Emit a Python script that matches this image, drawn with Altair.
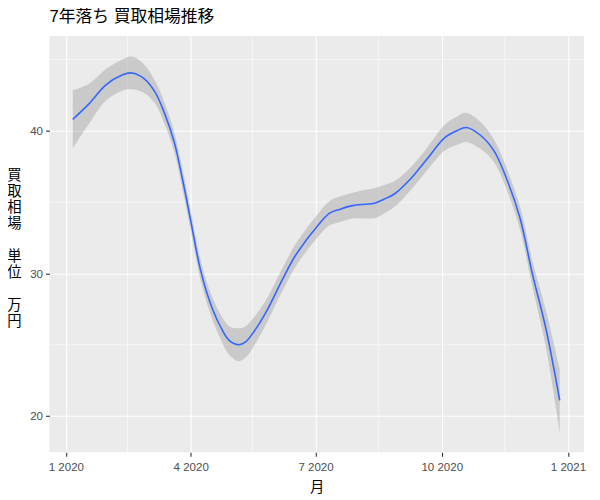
import altair as alt
import pandas as pd

# --- data (loess fit with 95% band) ---
dates = ["2020-01-06", "2020-01-18", "2020-01-30", "2020-02-11", "2020-02-18", "2020-02-27",
         "2020-03-06", "2020-03-13", "2020-03-20", "2020-03-26", "2020-04-01", "2020-04-08",
         "2020-04-15", "2020-04-22", "2020-04-29", "2020-05-06", "2020-05-11", "2020-05-17",
         "2020-05-26", "2020-06-07", "2020-06-16", "2020-06-24", "2020-07-01", "2020-07-11",
         "2020-07-19", "2020-07-28", "2020-08-06", "2020-08-13", "2020-08-20", "2020-08-28",
         "2020-09-09", "2020-09-21", "2020-10-03", "2020-10-12", "2020-10-19", "2020-10-29",
         "2020-11-08", "2020-11-17", "2020-11-27", "2020-12-06", "2020-12-16", "2020-12-26"]
fit = [40.8, 41.9, 43.2, 43.9, 44.05, 43.65,
       42.7, 41.2, 39.2, 36.6, 33.7, 30.3,
       28.0, 26.4, 25.3, 25.0, 25.2, 25.9,
       27.3, 29.6, 31.2, 32.3, 33.15, 34.2,
       34.5, 34.75, 34.85, 34.92, 35.2, 35.6,
       36.7, 38.1, 39.5, 40.0, 40.23, 39.7,
       38.6, 36.7, 33.9, 30.0, 26.1, 21.1]
lower = [38.75, 40.5, 42.1, 42.8, 42.9, 42.65,
         41.9, 40.45, 38.5, 35.9, 33.0, 29.6,
         27.25, 25.55, 24.3, 23.85, 24.1, 24.9,
         26.45, 28.8, 30.4, 31.5, 32.35, 33.35,
         33.6, 33.85, 33.85, 33.87, 34.2, 34.7,
         35.9, 37.3, 38.6, 39.0, 39.2, 38.75,
         37.8, 35.95, 33.1, 29.1, 24.8, 18.9]
upper = [42.85, 43.3, 44.3, 45.0, 45.2, 44.65,
         43.5, 41.95, 39.9, 37.3, 34.4, 31.0,
         28.75, 27.25, 26.3, 26.15, 26.3, 26.9,
         28.15, 30.4, 32.0, 33.1, 33.95, 35.05,
         35.4, 35.65, 35.85, 35.97, 36.2, 36.5,
         37.5, 38.9, 40.4, 41.0, 41.25, 40.65,
         39.4, 37.45, 34.7, 30.9, 27.4, 23.3]

x_breaks = ["2020-01-01", "2020-04-01", "2020-07-01", "2020-10-01", "2021-01-01"]
x_minor = ["2020-02-15", "2020-05-16", "2020-08-16", "2020-11-16"]
y_breaks = [20, 30, 40]
y_minor = [25, 35, 45]

title_text = "7年落ち 買取相場推移"
x_title = "月"
BLANK = "\u2800"
y_title = ["買", "取", "相", "場", BLANK, "単", "位", BLANK, "万", "円"]

FONT = "Liberation Sans, Noto Sans CJK JP, DejaVu Sans, sans-serif"

df = pd.DataFrame({"date": dates, "fit": fit, "lower": lower, "upper": upper})
xmin_df = pd.DataFrame({"date": x_minor})
ymin_df = pd.DataFrame({"v": y_minor})


def dt(s):
    y, m, d = (int(p) for p in s.split("-"))
    return alt.DateTime(year=y, month=m, date=d, utc=True)


xscale = alt.Scale(type="utc", domain=[alt.DateTime(year=2019, month=12, date=20, utc=True),
                                       alt.DateTime(year=2021, month=1, date=12, hours=19, utc=True)])
yscale = alt.Scale(domain=[17.46, 46.64], nice=False, zero=False)

xaxis = alt.Axis(values=[dt(s) for s in x_breaks],
                 labelExpr="(utcmonth(datum.value) + 1) + ' ' + utcyear(datum.value)",
                 title=x_title, domain=False, grid=True, gridColor="white", gridWidth=1.1,
                 tickColor="#333333", tickSize=4, tickWidth=1.1,
                 labelColor="#4D4D4D", labelFontSize=11.7, labelPadding=5, labelFont=FONT,
                 titleFont=FONT, titleFontSize=14.5, titleFontWeight="normal", titleColor="black",
                 titlePadding=8)
yaxis = alt.Axis(values=y_breaks, title=y_title, domain=False, grid=True, gridColor="white",
                 gridWidth=1.1, tickColor="#333333", tickSize=4, tickWidth=1.1,
                 labelColor="#4D4D4D", labelFontSize=11.7, labelPadding=3, labelFont=FONT,
                 titleFont=FONT, titleFontSize=14.5, titleFontWeight="normal", titleColor="black",
                 titleAngle=0, titleAlign="center", titleBaseline="middle",
                 titleX=-36, titleY=141, titleLineHeight=16.5)

xminor_rules = alt.Chart(xmin_df).mark_rule(color="white", strokeWidth=0.55).encode(
    x=alt.X("date:T", scale=xscale, axis=xaxis)
)
yminor_rules = alt.Chart(ymin_df).mark_rule(color="white", strokeWidth=0.55).encode(
    y=alt.Y("v:Q", scale=yscale, axis=yaxis)
)

band = alt.Chart(df).mark_area(color="#999999", opacity=0.4, interpolate="catmull-rom").encode(
    x=alt.X("date:T", scale=xscale, axis=xaxis),
    y=alt.Y("lower:Q", scale=yscale, axis=yaxis),
    y2="upper:Q",
)
line = alt.Chart(df).mark_line(color="#3366FF", strokeWidth=1.6, interpolate="catmull-rom").encode(
    x=alt.X("date:T", scale=xscale, axis=xaxis),
    y=alt.Y("fit:Q", scale=yscale, axis=yaxis),
)

chart = alt.layer(xminor_rules, yminor_rules, band, line).properties(
    width=542,
    height=422,
    autosize=alt.AutoSizeParams(type="none"),
    padding={"left": 42, "top": 25, "right": 8, "bottom": 45},
    title=alt.TitleParams(title_text, anchor="start", frame="group", font=FONT, fontSize=17,
                          fontWeight="normal", color="black", offset=10),
).configure_view(fill="#EBEBEB", stroke=None)

chart.save("out.html", embed_options={"renderer": "svg", "actions": False})
